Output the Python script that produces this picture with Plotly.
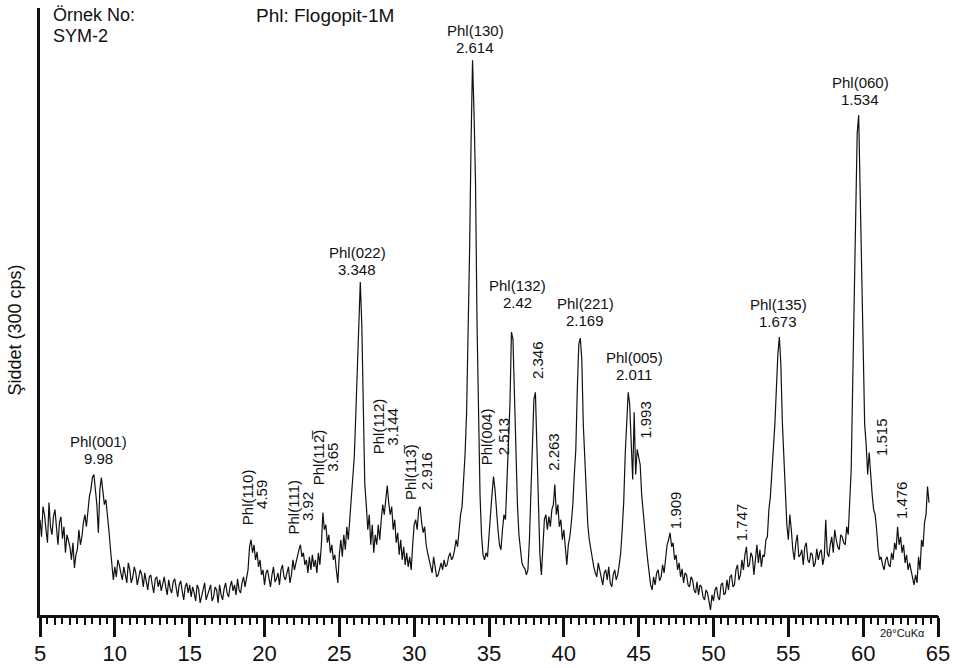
import plotly.graph_objects as go

# Scan parameters (2θ, Cu Kα)
scan_start = 5.0
scan_step = 0.1

# Measured intensity, one row per degree of 2θ (x.0 ... x.9)
intensity = [
    95, 78, 108, 100, 85, 72, 112, 88, 80, 98,        # 5
    105, 82, 70, 92, 98, 76, 88, 62, 80, 74,          # 6
    68, 55, 72, 47, 60, 66, 85, 70, 78, 92,           # 7
    100, 88, 105, 118, 125, 137, 140, 125, 110, 82,   # 8
    125, 137, 125, 110, 115, 95, 85, 67, 50, 35,      # 9
    48, 38, 55, 50, 42, 35, 48, 40, 32, 52,           # 10
    45, 32, 38, 48, 42, 30, 36, 45, 40, 28,           # 11
    42, 32, 25, 38, 40, 30, 22, 36, 38, 28,           # 12
    35, 24, 30, 38, 28, 20, 35, 26, 22, 33,           # 13
    36, 25, 18, 30, 34, 24, 15, 28, 32, 22,           # 14
    30, 18, 28, 22, 14, 30, 26, 12, 20, 28,           # 15
    32, 15, 20, 26, 30, 14, 18, 28, 25, 12,           # 16
    30, 20, 15, 26, 32, 22, 18, 28, 34, 24,           # 17
    30, 20, 36, 25, 22, 32, 38, 28, 35, 45,           # 18
    68, 75, 62, 70, 55, 63, 48, 55, 40, 45,           # 19
    30, 42, 45, 35, 28, 40, 48, 33, 36, 42,           # 20
    30, 45, 50, 38, 35, 42, 48, 32, 40, 55,           # 21
    45, 52, 60, 65, 70, 58, 62, 50, 55, 42,           # 22
    58, 45, 60, 48, 55, 42, 62, 50, 70, 102,          # 23
    85, 90, 72, 80, 62, 70, 55, 60, 45, 32,           # 24
    60, 75, 58, 80, 65, 88, 75, 95, 110, 128,         # 25
    158, 200, 240, 300, 332, 290, 190, 130, 110, 85,  # 26
    100, 70, 90, 62, 80, 70, 90, 75, 95, 110,         # 27
    100, 118, 129, 112, 100, 108, 85, 95, 72, 82,     # 28
    60, 75, 55, 68, 50, 62, 48, 58, 45, 70,           # 29
    90, 95, 85, 105, 108, 92, 82, 88, 70, 62,         # 30
    55, 48, 42, 58, 50, 38, 40, 48, 52, 45,           # 31
    55, 48, 50, 58, 62, 55, 58, 65, 75, 68,           # 32
    85, 100, 108, 130, 160, 200, 270, 360, 470, 553,  # 33
    500, 430, 290, 180, 120, 80, 60, 55, 62, 58,      # 34
    75, 100, 120, 138, 125, 100, 85, 70, 65, 85,      # 35
    100, 95, 130, 165, 210, 282, 275, 220, 160, 110,  # 36
    80, 62, 52, 48, 46, 40, 45, 75, 125, 175,         # 37
    215, 222, 170, 115, 60, 40, 70, 95, 100, 85,      # 38
    98, 88, 105, 110, 130, 100, 110, 88, 95, 75,      # 39
    85, 62, 50, 70, 78, 92, 110, 140, 165, 225,       # 40
    270, 276, 255, 190, 150, 110, 90, 75, 65, 55,     # 41
    48, 42, 38, 52, 45, 35, 30, 42, 45, 35,           # 42
    48, 32, 28, 40, 45, 35, 40, 50, 62, 85,           # 43
    112, 160, 195, 222, 210, 175, 135, 202, 140, 165, # 44
    158, 150, 120, 100, 90, 70, 55, 40, 30, 25,       # 45
    38, 30, 42, 45, 34, 38, 50, 42, 58, 70,           # 46
    75, 82, 68, 72, 55, 60, 45, 52, 38, 46,           # 47
    32, 42, 40, 30, 28, 38, 35, 25, 22, 33,           # 48
    20, 30, 28, 18, 15, 25, 22, 12, 5, 20,            # 49
    14, 25, 28, 18, 15, 30, 32, 20, 22, 35,           # 50
    25, 38, 40, 28, 30, 45, 50, 35, 40, 55,           # 51
    45, 60, 68, 48, 50, 62, 58, 40, 55, 70,           # 52
    52, 65, 48, 60, 58, 75, 78, 105, 118, 140,        # 53
    158, 190, 225, 260, 277, 250, 192, 160, 115, 90,  # 54
    75, 100, 85, 65, 55, 72, 80, 58, 60, 65,          # 55
    50, 68, 72, 55, 52, 62, 60, 48, 52, 66,           # 56
    55, 62, 65, 50, 58, 95, 62, 58, 70, 78,           # 57
    62, 85, 75, 68, 65, 80, 78, 72, 70, 88,           # 58
    80, 110, 145, 230, 330, 420, 480, 498, 420, 330,  # 59
    240, 190, 170, 140, 162, 135, 120, 105, 100, 85,  # 60
    65, 55, 58, 50, 45, 55, 58, 50, 48, 62,           # 61
    55, 72, 65, 88, 70, 78, 62, 70, 52, 60,           # 62
    45, 52, 45, 38, 30, 40, 32, 58, 45, 75,           # 63
    68, 92, 100, 128, 112,                            # 64
]
two_theta = [round(scan_start + scan_step * i, 2) for i in range(len(intensity))]

# Upright peak labels: (phase/hkl, d-spacing, 2θ of label, height of first line)
upright_labels = [
    ("Phl(001)", "9.98", 8.90, 172),
    ("Phl(022)", "3.348", 26.21, 361),
    ("Phl(130)", "2.614", 34.09, 582),
    ("Phl(132)", "2.42", 36.90, 328),
    ("Phl(221)", "2.169", 41.44, 310),
    ("Phl(005)", "2.011", 44.71, 256),
    ("Phl(135)", "1.673", 54.34, 309),
    ("Phl(060)", "1.534", 59.82, 530),
]

# Vertical peak labels: (text, 2θ of column centre, height of column centre)
vertical_labels = [
    ("Phl(110)", 18.87, 117), ("4.59", 19.79, 120),
    ("Phl(111)", 21.96, 107), ("3.92", 22.86, 108),
    ("Phl(112\u0305)", 23.63, 157), ("3.65", 24.53, 157),
    ("Phl(112)", 27.64, 188), ("3.144", 28.54, 188),
    ("Phl(113\u0305)", 29.75, 143), ("2.916", 30.82, 144),
    ("Phl(004)", 34.86, 178), ("2.513", 35.93, 178),
    ("2.346", 38.20, 254),
    ("2.263", 39.30, 163),
    ("1.993", 45.45, 195),
    ("1.909", 47.46, 105),
    ("1.747", 51.87, 93),
    ("1.515", 61.23, 177),
    ("1.476", 62.56, 115),
]

FONT = "Arial, Liberation Sans, sans-serif"
INK = "#111111"

fig = go.Figure()
fig.add_trace(go.Scatter(
    x=two_theta, y=intensity, mode="lines",
    line=dict(color=INK, width=1.2),
    hoverinfo="skip", showlegend=False,
))
# Empty companion trace so the 1° tick axis is rendered
fig.add_trace(go.Scatter(x=[], y=[], xaxis="x2", yaxis="y",
                         mode="lines", hoverinfo="skip", showlegend=False))

annotations = []
for hkl, d, x, y in upright_labels:
    annotations.append(dict(x=x, y=y + 0.5, text=hkl, showarrow=False,
                            xanchor="center", yanchor="middle",
                            font=dict(family=FONT, size=15, color=INK)))
    annotations.append(dict(x=x, y=y - 16.5, text=d, showarrow=False,
                            xanchor="center", yanchor="middle",
                            font=dict(family=FONT, size=15, color=INK)))
for txt, x, y in vertical_labels:
    annotations.append(dict(x=x, y=y, text=txt, showarrow=False, textangle=-90,
                            xanchor="center", yanchor="middle",
                            font=dict(family=FONT, size=15, color=INK)))

# Sample / phase captions and axis notes
annotations += [
    dict(xref="paper", x=0.0122, y=598, text="Örnek No:",
         showarrow=False, xanchor="left", yanchor="middle",
         font=dict(family=FONT, size=18, color=INK)),
    dict(xref="paper", x=0.0122, y=577, text="SYM-2",
         showarrow=False, xanchor="left", yanchor="middle",
         font=dict(family=FONT, size=18, color=INK)),
    dict(xref="paper", x=0.238, y=598, text="Phl: Flogopit-1M",
         showarrow=False, xanchor="left", yanchor="middle",
         font=dict(family=FONT, size=19, color=INK)),
    dict(xref="paper", yref="paper", x=-0.028, y=0.47, text="Şiddet (300 cps)",
         showarrow=False, textangle=-90, xanchor="center", yanchor="middle",
         font=dict(family=FONT, size=18, color=INK)),
    dict(xref="paper", yref="paper", x=(62.62 - 5) / 60, y=-0.0297,
         text="2θ°CuKα", showarrow=False, xanchor="center", yanchor="middle",
         font=dict(family=FONT, size=11, color=INK)),
]

fig.update_layout(
    width=955, height=668,
    margin=dict(l=40, r=17, t=8, b=53, autoexpand=False),
    paper_bgcolor="white", plot_bgcolor="white",
    annotations=annotations,
    xaxis=dict(
        range=[5, 65], tickmode="linear", tick0=5, dtick=5,
        ticks="outside", ticklen=19, tickwidth=2.5, tickcolor=INK,
        showline=True, linewidth=2.5, linecolor=INK,
        showgrid=False, zeroline=False, automargin=False,
        tickfont=dict(family=FONT, size=22, color=INK),
        ticklabelstandoff=-2,
        minor=dict(dtick=0.5, ticks="outside", ticklen=6, tickwidth=2, tickcolor=INK),
    ),
    # Secondary tick row: slightly longer marks at every whole degree
    xaxis2=dict(
        overlaying="x", matches="x", anchor="y", side="bottom",
        range=[5, 65], tickmode="linear", tick0=5, dtick=1,
        ticks="outside", ticklen=9, tickwidth=2, tickcolor=INK,
        showticklabels=False, showline=False, showgrid=False,
        zeroline=False, automargin=False,
    ),
    yaxis=dict(
        range=[0, 605], showline=True, linewidth=2.5, linecolor=INK,
        showticklabels=False, ticks="", showgrid=False, zeroline=False,
        automargin=False,
    ),
)

fig.write_html("out.html")
